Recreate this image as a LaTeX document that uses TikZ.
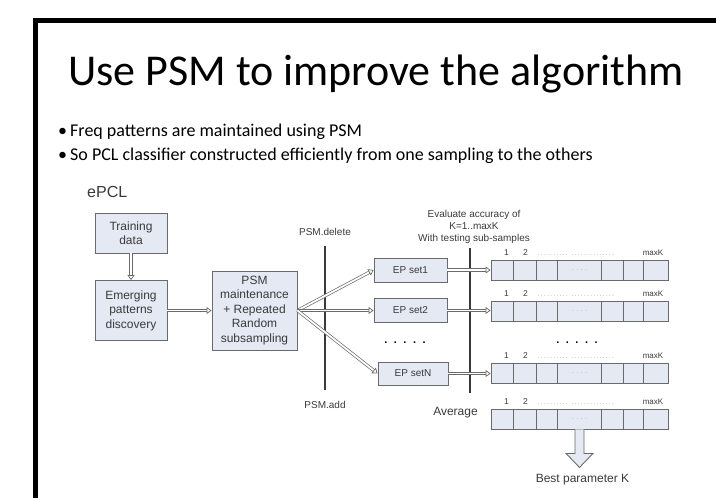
\documentclass[tikz,border=0pt]{standalone}
\usepackage{fontspec}
\setmainfont{Carlito}
\newfontfamily\diag{Liberation Sans}
\usetikzlibrary{arrows.meta}

\definecolor{boxfill}{HTML}{E4E9F4}
\definecolor{boxline}{HTML}{6A6A6A}
\definecolor{ink}{HTML}{3A3A3A}
\definecolor{faint}{HTML}{A8A8A8}

\begin{document}
\begin{tikzpicture}[x=1pt,y=-1pt,
  stage/.style={draw=boxline, fill=boxfill, line width=0.9pt, align=center,
    inner sep=0pt, text=ink, font=\diag\fontsize{12}{14.5}\selectfont},
  epbox/.style={stage, minimum width=73pt, minimum height=24pt,
    font=\diag\fontsize{10}{12}\selectfont},
  cellrow/.style={draw=boxline, fill=boxfill, line width=0.9pt,
    minimum width=177pt, minimum height=20pt, inner sep=0pt},
  divider/.style={draw=boxline, line width=0.9pt},
  flow/.style={draw=boxline, line width=0.7pt, double=white,
    double distance=1.8pt,
    -{Triangle[open, fill=white, length=5pt, width=7pt, line width=0.7pt]}},
  cut/.style={draw=ink, line width=1.3pt},
  small/.style={text=ink, inner sep=0pt, font=\diag\fontsize{8.5}{10}\selectfont},
  label/.style={text=ink, inner sep=0pt, align=center, font=\diag\fontsize{10}{12}\selectfont},
  biglabel/.style={text=ink, inner sep=0pt, font=\diag\fontsize{12}{14}\selectfont},
  dotrow/.style={text=black, inner sep=0pt, font=\diag\bfseries\fontsize{11}{11}\selectfont},
  bullet/.style={anchor=base west, inner sep=0pt, font=\fontsize{18}{21}\selectfont},
]
\useasboundingbox (0,0) rectangle (716,498);

% slide frame
\draw[line width=5pt, line cap=butt] (35.5,498) -- (35.5,20.5) -- (716,20.5);

% title and bullets
\node[anchor=base west, inner sep=0pt, font=\fontsize{44}{48}\selectfont] (title) at (68,85)
  {Use PSM to improve the algorithm};
\node[bullet] (bullet1) at (58,136)
  {\makebox[12pt][l]{\textbullet}Freq patterns are maintained using PSM};
\node[bullet] (bullet2) at (58,160)
  {\makebox[12pt][l]{\textbullet}So PCL classifier constructed efficiently from one sampling to the others};

% left part of the flow
\node[biglabel, font=\diag\fontsize{16}{18}\selectfont, anchor=west] (epcl) at (87,192) {ePCL};
\node[stage, minimum width=72pt, minimum height=40pt] (train) at (131,233) {Training\\data};
\node[stage, minimum width=72pt, minimum height=60pt] (emerg) at (131,310.5) {Emerging\\patterns\\discovery};
\node[stage, minimum width=85pt, minimum height=79pt] (psm) at (254.5,310.5)
  {PSM\\maintenance\\+ Repeated\\Random\\subsampling};

\draw[flow] (train) -- (emerg);
\draw[flow] (emerg) -- (psm);

% separator for PSM.delete / PSM.add
\node[label] (del) at (325,232) {PSM.delete};
\node[label] (add) at (325,405) {PSM.add};
\coordinate (cutAtop) at (325,246);
\coordinate (cutAbot) at (325,390);
\draw[cut] (cutAtop) -- (cutAbot);

% EP sets
\node[epbox] (ep1) at (410.5,270) {EP set1};
\node[epbox] (ep2) at (410.5,310.5) {EP set2};
\node[epbox, minimum width=70pt, minimum height=23pt] (epN) at (413,373.5) {EP setN};
\node[dotrow] (epdots) at (405,343) {.\hspace{6.5pt}.\hspace{6.5pt}.\hspace{6.5pt}.\hspace{6.5pt}.};

\draw[flow] (psm.east) -- (ep1.west);
\draw[flow] (psm.east) -- (ep2.west);
\draw[flow] (psm.east) -- (epN.west);

% evaluation separator
\node[label] (evalnote) at (474,227) {Evaluate accuracy of\\K=1..maxK\\With testing sub-samples};
\coordinate (cutBtop) at (470,248);
\coordinate (cutBbot) at (470,393);
\draw[cut] (cutBtop) -- (cutBbot);

% accuracy arrays for K = 1..maxK
\foreach \r/\yy in {1/270, 2/311, N/373, avg/419} {
  \node[cellrow] (row\r) at (579.5,\yy) {};
  \foreach \dx in {23,46,67,111,133,153}
    \draw[divider] ([xshift=\dx pt]row\r.north west) -- ([xshift=\dx pt]row\r.south west);
  \node[small, text=faint, font=\diag\fontsize{7}{8}\selectfont] at ([xshift=89pt]row\r.west) {.\hspace{2.5pt}.\hspace{2.5pt}.\hspace{2.5pt}.};
  \node[small, anchor=base] at ([xshift=16pt, yshift=4pt]row\r.north west) {1};
  \node[small, anchor=base] at ([xshift=35pt, yshift=4pt]row\r.north west) {2};
  \node[small, anchor=base east, font=\diag\fontsize{8}{9}\selectfont] at ([xshift=-5pt, yshift=4pt]row\r.north east) {maxK};
  \node[small, anchor=base west, text=faint, font=\diag\fontsize{7}{8}\selectfont] at ([xshift=47pt, yshift=4pt]row\r.north west)
    {.\,.\,.\,.\,.\,.\,.\,.\,.\,.\;\;.\,.\,.\,.\,.\,.\,.\,.\,.\,.\,.\,.\,.\,.};
}
\node[dotrow] (rowdots) at (577,343) {.\hspace{6.5pt}.\hspace{6.5pt}.\hspace{6.5pt}.\hspace{6.5pt}.};

\draw[flow] (ep1.east) -- (ep1.east -| row1.west);
\draw[flow] (ep2.east) -- (ep2.east -| row2.west);
\draw[flow] (epN.east) -- (epN.east -| rowN.west);

\node[biglabel] (average) at (455.5,413) {Average};

% hollow block arrow to the result
\draw[draw=boxline, fill=boxfill, line width=0.9pt, line join=miter]
  ([xshift=-4.5pt]rowavg.south) -- ++(0,24) -- ++(-9,0) -- ++(13.5,14)
  -- ++(13.5,-14) -- ++(-9,0) -- ++(0,-24);
\node[biglabel] (best) at (582.5,480) {Best parameter K};
\end{tikzpicture}
\end{document}
